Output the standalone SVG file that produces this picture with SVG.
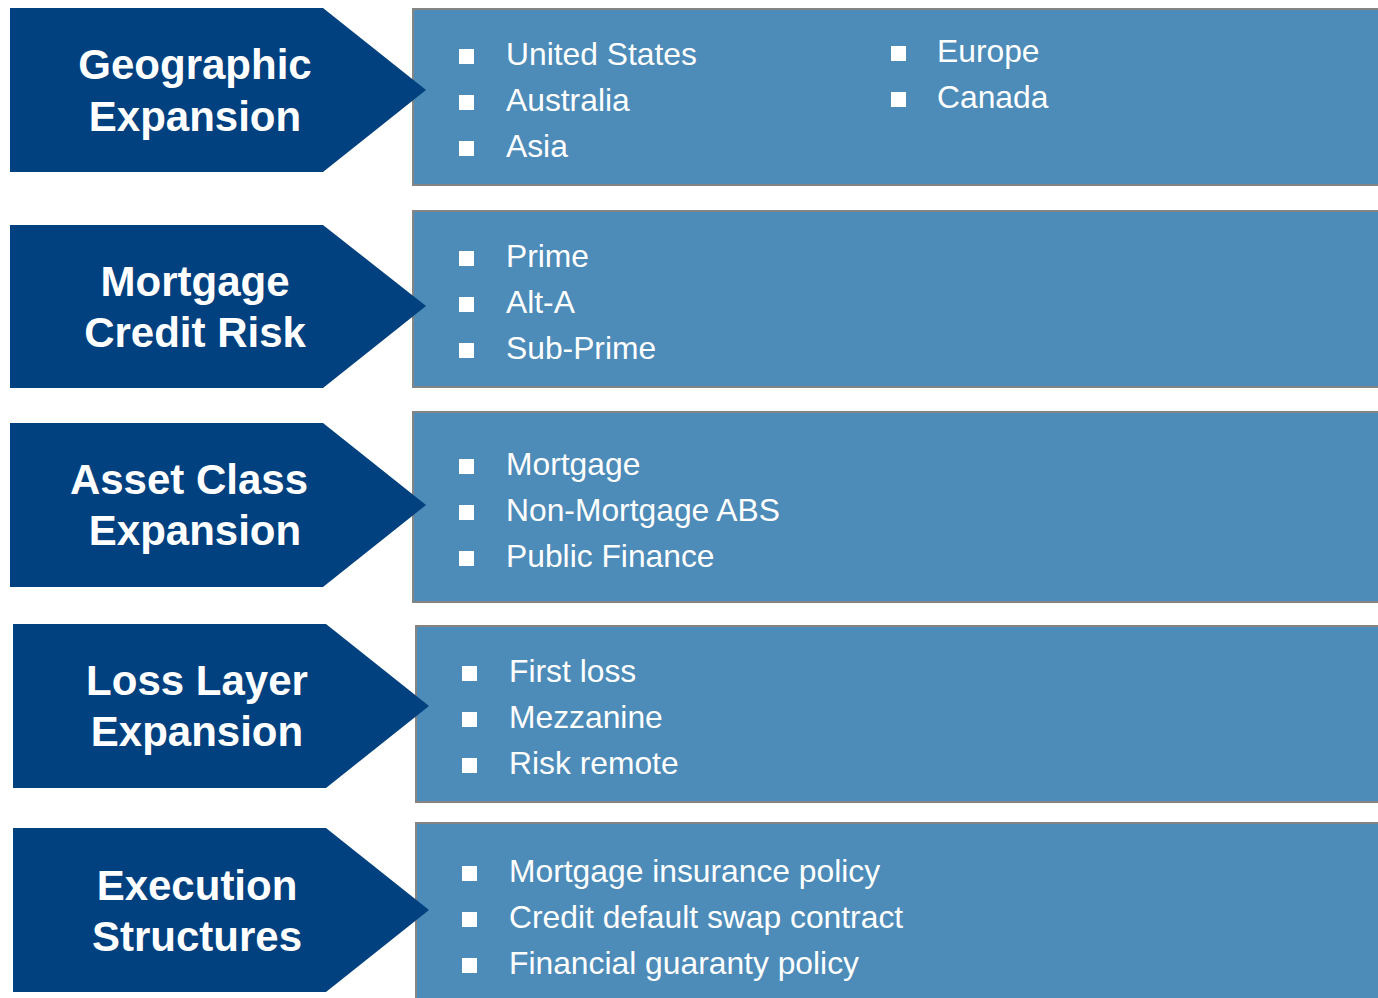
<svg xmlns="http://www.w3.org/2000/svg" width="1378" height="998" viewBox="0 0 1378 998">
<style>
.chev{fill:#02417F}
.box{fill:#4D8BB8;stroke:#848484;stroke-width:2}
.t{font-family:"Liberation Sans",Arial,sans-serif;font-weight:bold;font-size:42px;fill:#fff;text-anchor:middle}
.b{font-family:"Liberation Sans",Arial,sans-serif;font-size:31.8px;fill:#fff}
.sq{fill:#fff}
</style>
<defs><rect id="sq" width="15" height="15" class="sq"/></defs>
<rect width="1378" height="998" fill="#fff"/>
<g id="node1">
<rect class="box" x="413" y="9" width="966" height="176"/>
<polygon class="chev" points="10,8 323,8 426,90 323,172 10,172"/>
<text class="t" x="195" y="79">Geographic</text>
<text class="t" x="195" y="131">Expansion</text>
<use href="#sq" x="459" y="49"/><text class="b" x="506" y="65">United States</text>
<use href="#sq" x="459" y="95"/><text class="b" x="506" y="111">Australia</text>
<use href="#sq" x="459" y="141"/><text class="b" x="506" y="157">Asia</text>
<use href="#sq" x="891" y="46"/><text class="b" x="937" y="62">Europe</text>
<use href="#sq" x="891" y="92"/><text class="b" x="937" y="108">Canada</text>
</g>
<g id="node2">
<rect class="box" x="413" y="211" width="966" height="176"/>
<polygon class="chev" points="10,225 323,225 426,306 323,388 10,388"/>
<text class="t" x="195" y="296">Mortgage</text>
<text class="t" x="195" y="347">Credit Risk</text>
<use href="#sq" x="459" y="251"/><text class="b" x="506" y="267">Prime</text>
<use href="#sq" x="459" y="297"/><text class="b" x="506" y="313">Alt-A</text>
<use href="#sq" x="459" y="343"/><text class="b" x="506" y="359">Sub-Prime</text>
</g>
<g id="node3">
<rect class="box" x="413" y="412" width="966" height="190"/>
<polygon class="chev" points="10,423 323,423 426,505 323,587 10,587"/>
<text class="t" x="189" y="494">Asset Class</text>
<text class="t" x="195" y="545">Expansion</text>
<use href="#sq" x="459" y="459"/><text class="b" x="506" y="475">Mortgage</text>
<use href="#sq" x="459" y="505"/><text class="b" x="506" y="521">Non-Mortgage ABS</text>
<use href="#sq" x="459" y="551"/><text class="b" x="506" y="567">Public Finance</text>
</g>
<g id="node4">
<rect class="box" x="416" y="626" width="963" height="176"/>
<polygon class="chev" points="13,624 326,624 429,706 326,788 13,788"/>
<text class="t" x="197" y="695">Loss Layer</text>
<text class="t" x="197" y="746">Expansion</text>
<use href="#sq" x="462" y="666"/><text class="b" x="509" y="682">First loss</text>
<use href="#sq" x="462" y="712"/><text class="b" x="509" y="728">Mezzanine</text>
<use href="#sq" x="462" y="758"/><text class="b" x="509" y="774">Risk remote</text>
</g>
<g id="node5">
<rect class="box" x="416" y="823" width="963" height="190"/>
<polygon class="chev" points="13,828 326,828 429,910 326,992 13,992"/>
<text class="t" x="197" y="900">Execution</text>
<text class="t" x="197" y="951">Structures</text>
<use href="#sq" x="462" y="866"/><text class="b" x="509" y="882">Mortgage insurance policy</text>
<use href="#sq" x="462" y="912"/><text class="b" x="509" y="928">Credit default swap contract</text>
<use href="#sq" x="462" y="958"/><text class="b" x="509" y="974">Financial guaranty policy</text>
</g>
<g id="connectors"></g>
</svg>
